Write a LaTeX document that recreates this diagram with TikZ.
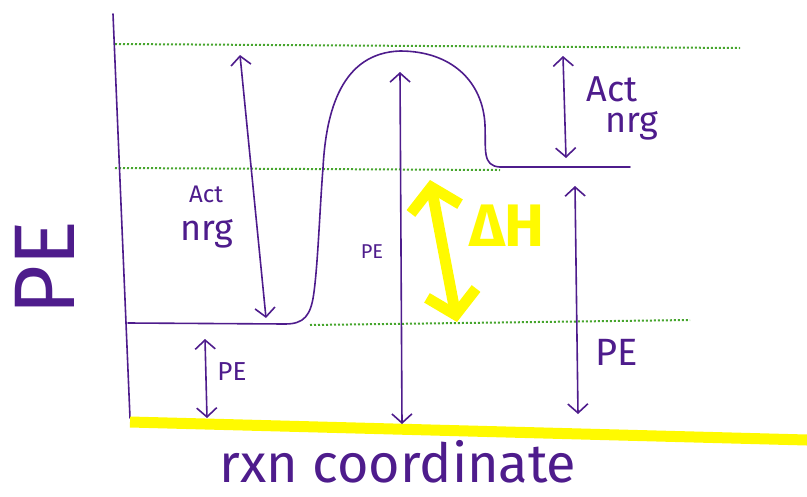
\documentclass[tikz,border=0pt]{standalone}
\usepackage{fontspec}
\setmainfont{Fira Sans}
\usetikzlibrary{arrows.meta}
\definecolor{ink}{RGB}{78,28,140}
\definecolor{guide}{RGB}{70,165,45}
\definecolor{hl}{RGB}{255,250,0}
\tikzset{
  pen/.style={draw=ink, line width=1.6pt, line cap=round, line join=round},
  span/.style={pen, {Straight Barb[length=9pt,width=20pt]}-{Straight Barb[length=9pt,width=20pt]}},
  level/.style={draw=guide, line width=2pt, dotted},
  marker/.style={draw=hl, line width=11pt, line cap=round},
  label/.style={text=ink, inner sep=0pt, font=#1},
}
\begin{document}
\begin{tikzpicture}[x=1pt,y=-1pt]
\useasboundingbox (0,0) rectangle (807,496);
% energy levels
\draw[level] (115,44) -- (740,48);
\draw[level] (115,168) -- (500,170);
\draw[level] (310,325) -- (690,320);
% vertical axis
\coordinate (ytop) at (113,14);
\coordinate (ybot) at (130,418);
\draw[pen] (ytop) -- (ybot);
% horizontal axis
\coordinate (xl) at (130,422);
\coordinate (xr) at (807,440);
\draw[marker, line cap=butt] (xl) -- (xr);
% reaction profile
\draw[pen] (128,323) -- (285,324)
  .. controls (304,324) and (311,316) .. (314,292)
  .. controls (318,262) and (320,205) .. (323,168)
  .. controls (326,110) and (342,53) .. (400,51)
  .. controls (452,51) and (483,82) .. (485,125)
  .. controls (486,150) and (482,166) .. (500,167) -- (630,167);
% arrows
\coordinate (a1) at (240,55);  \coordinate (a2) at (266,318);
\coordinate (b1) at (400,72);  \coordinate (b2) at (402,424);
\coordinate (c1) at (563,56);  \coordinate (c2) at (566,158);
\coordinate (d1) at (575,186); \coordinate (d2) at (578,414);
\coordinate (e1) at (205,339); \coordinate (e2) at (207,418);
\draw[span] (a1) -- (a2);
\draw[span] (b1) -- (b2);
\draw[span] (c1) -- (c2);
\draw[span] (d1) -- (d2);
\draw[span] (e1) -- (e2);
% enthalpy change
\coordinate (h1) at (430,180);
\coordinate (h2) at (457,322);
\draw[marker, {Straight Barb[length=22pt,width=50pt]}-{Straight Barb[length=22pt,width=50pt]}] (h1) -- (h2);
\node[text=hl, inner sep=0pt, font=\fontsize{60}{60}\selectfont\bfseries] (dh) at (507,226) {ΔH};
% labels
\node[label=\fontsize{24}{24}\selectfont] (act1) at (206,194) {Act};
\node[label=\fontsize{36}{36}\selectfont] (nrg1) at (207,234) {nrg};
\node[label=\fontsize{36}{36}\selectfont] (act2) at (612,89) {Act};
\node[label=\fontsize{36}{36}\selectfont] (nrg2) at (632,126) {nrg};
\node[label=\fontsize{20}{20}\selectfont] (pe1) at (372,252) {PE};
\node[label=\fontsize{26}{26}\selectfont] (pe2) at (232,372) {PE};
\node[label=\fontsize{38}{38}\selectfont] (pe3) at (617,352) {PE};
\node[label=\fontsize{86}{86}\selectfont, rotate=90] (yl) at (45,268) {PE};
\node[label=\fontsize{54}{54}\selectfont] (xlab) at (398,462) {rxn coordinate};
\end{tikzpicture}
\end{document}
